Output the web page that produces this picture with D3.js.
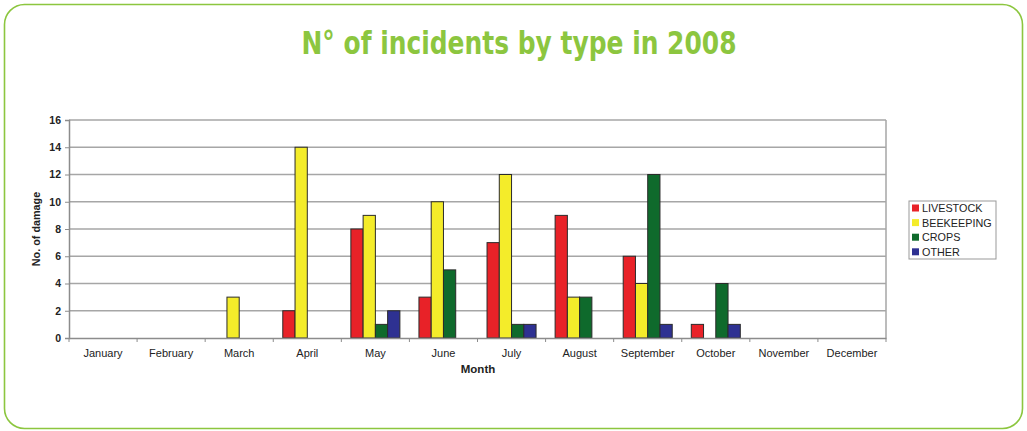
<!DOCTYPE html>
<html>
<head>
<meta charset="utf-8">
<script src="https://cdn.jsdelivr.net/npm/d3@7"></script>
<style>
  html, body { margin: 0; padding: 0; background: #fff; }
  svg { display: block; }
</style>
</head>
<body>
<svg id="chart" width="1027" height="431"></svg>
<script>
// Monthly incident counts per damage type, 2008
const months = ["January", "February", "March", "April", "May", "June",
                "July", "August", "September", "October", "November", "December"];
const seriesNames = ["LIVESTOCK", "BEEKEEPING", "CROPS", "OTHER"];
const livestock  = [0, 0, 0, 2, 8, 3, 7, 9, 6, 1, 0, 0];
const beekeeping = [0, 0, 3, 14, 9, 10, 12, 3, 4, 0, 0, 0];
const crops      = [0, 0, 0, 0, 1, 5, 1, 3, 12, 4, 0, 0];
const other      = [0, 0, 0, 0, 2, 0, 1, 0, 1, 1, 0, 0];
const yTicks     = [0, 2, 4, 6, 8, 10, 12, 14, 16];

const seriesValues = [livestock, beekeeping, crops, other];
const colors = ["#e82228", "#f4ec2a", "#0f6a2c", "#2e3192"];

const svg = d3.select("#chart");

// rounded green frame
svg.append("rect")
  .attr("x", 4.5).attr("y", 4.5)
  .attr("width", 1018).attr("height", 424)
  .attr("rx", 20).attr("ry", 20)
  .attr("fill", "#fff")
  .attr("stroke", "#8cc63f")
  .attr("stroke-width", 1.6);

// title
svg.append("text")
  .attr("x", 519).attr("y", 54)
  .attr("text-anchor", "middle")
  .attr("font-family", "'DejaVu Sans Condensed', 'Liberation Sans Narrow', sans-serif")
  .attr("font-weight", "bold")
  .attr("font-size", 32)
  .attr("fill", "#8cc63f")
  .attr("textLength", 435)
  .attr("lengthAdjust", "spacingAndGlyphs")
  .text("N° of incidents by type in 2008");

const plot = { left: 69, right: 886, top: 120, bottom: 338 };

const x = d3.scaleBand()
  .domain(months)
  .range([plot.left, plot.right])
  .paddingInner(0).paddingOuter(0);

// bar group fills about 72% of each month band
const x1 = d3.scaleBand()
  .domain(seriesNames)
  .range([x.bandwidth() * 0.14, x.bandwidth() * 0.86])
  .paddingInner(0).paddingOuter(0);

const y = d3.scaleLinear().domain([0, 16]).range([plot.bottom, plot.top]);

const font = "Arial, 'Liberation Sans', sans-serif";

// gridlines
svg.append("g")
  .selectAll("line")
  .data(yTicks.filter(d => d > 0))
  .join("line")
  .attr("x1", plot.left).attr("x2", plot.right)
  .attr("y1", d => y(d)).attr("y2", d => y(d))
  .attr("stroke", "#a6a6a6")
  .attr("stroke-width", 1.5);

// right frame edge
svg.append("line")
  .attr("x1", plot.right).attr("x2", plot.right)
  .attr("y1", plot.top).attr("y2", plot.bottom)
  .attr("stroke", "#a6a6a6").attr("stroke-width", 1.5);

// bars
const groups = svg.append("g")
  .selectAll("g")
  .data(months)
  .join("g")
  .attr("transform", d => `translate(${x(d)},0)`);

groups.selectAll("rect")
  .data((m, i) => seriesNames.map((s, k) => ({ s, k, v: seriesValues[k][i] })).filter(d => d.v > 0))
  .join("rect")
  .attr("x", d => x1(d.s))
  .attr("width", x1.bandwidth())
  .attr("y", d => y(d.v))
  .attr("height", d => y(0) - y(d.v))
  .attr("fill", d => colors[d.k])
  .attr("stroke", "#2b2b2b")
  .attr("stroke-width", 1);

// y axis
const yAxis = svg.append("g")
  .attr("transform", `translate(${plot.left},0)`)
  .call(d3.axisLeft(y).tickValues(yTicks).tickSize(4).tickPadding(4).tickFormat(d3.format("d")));
yAxis.select(".domain").attr("stroke", "#8c8c8c").attr("stroke-width", 1.5);
yAxis.selectAll(".tick line").attr("stroke", "#8c8c8c");
yAxis.selectAll("text")
  .attr("font-family", font).attr("font-size", 10.5).attr("font-weight", "bold").attr("fill", "#222");

// x axis
const xAxis = svg.append("g")
  .attr("transform", `translate(0,${plot.bottom})`)
  .call(d3.axisBottom(x).tickSize(0).tickPadding(11));
xAxis.select(".domain").attr("stroke", "#8c8c8c").attr("stroke-width", 1.5);
xAxis.selectAll("text")
  .attr("font-family", font).attr("font-size", 11).attr("fill", "#222");

// category separator ticks
svg.append("g")
  .selectAll("line")
  .data(d3.range(months.length + 1))
  .join("line")
  .attr("x1", i => plot.left + i * x.step())
  .attr("x2", i => plot.left + i * x.step())
  .attr("y1", plot.bottom).attr("y2", plot.bottom + 4)
  .attr("stroke", "#8c8c8c");

// axis titles
svg.append("text")
  .attr("transform", `translate(40,${(plot.top + plot.bottom) / 2}) rotate(-90)`)
  .attr("text-anchor", "middle")
  .attr("font-family", font).attr("font-size", 10.8).attr("font-weight", "bold").attr("fill", "#222")
  .text("No. of damage");

svg.append("text")
  .attr("x", 478).attr("y", 373)
  .attr("text-anchor", "middle")
  .attr("font-family", font).attr("font-size", 11.5).attr("font-weight", "bold").attr("fill", "#222")
  .text("Month");

// legend
const legend = svg.append("g").attr("transform", "translate(909,201)");
legend.append("rect")
  .attr("width", 87).attr("height", 58)
  .attr("fill", "#fff").attr("stroke", "#999").attr("stroke-width", 1);
const li = legend.selectAll("g.item")
  .data(seriesNames)
  .join("g")
  .attr("class", "item")
  .attr("transform", (d, i) => `translate(3,${3 + i * 14.6})`);
li.append("rect")
  .attr("width", 7).attr("height", 7).attr("y", 0.5)
  .attr("fill", (d, i) => colors[i]);
li.append("text")
  .attr("x", 10).attr("y", 8)
  .attr("font-family", font).attr("font-size", 10.8).attr("fill", "#222")
  .text(d => d);
</script>
</body>
</html>
